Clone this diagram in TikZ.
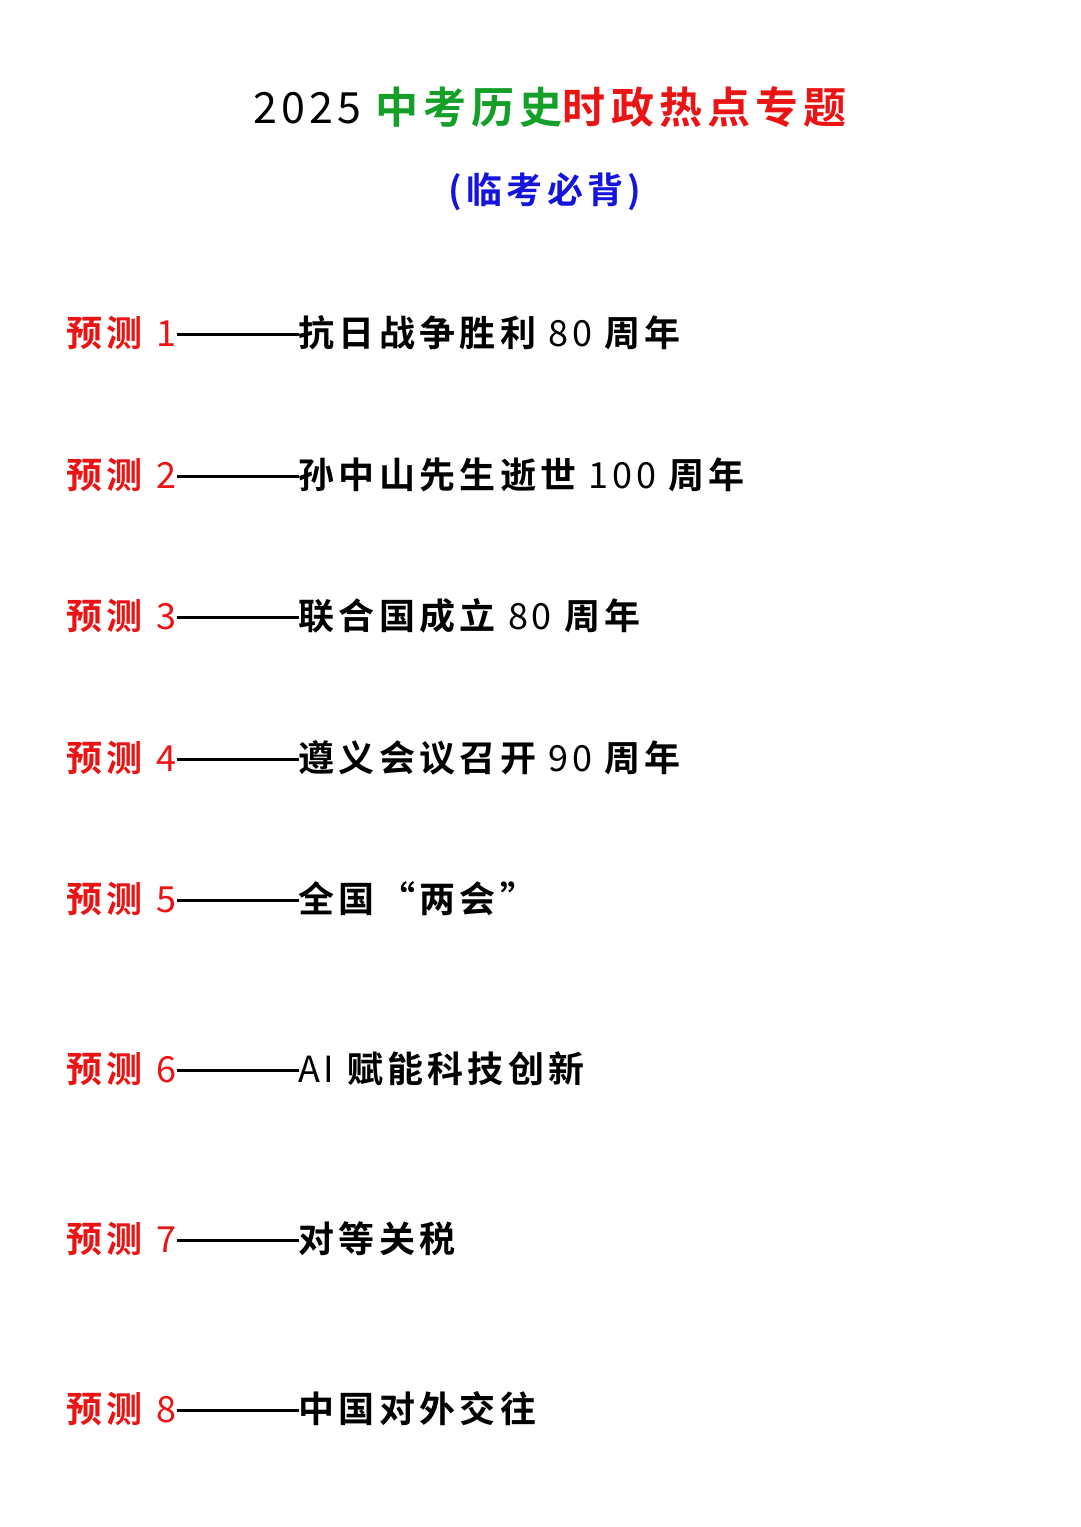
\documentclass[tikz,border=0pt]{standalone}
\usepackage{fontspec}
\newfontfamily\cjkb[LetterSpace=12]{Noto Sans CJK SC Bold}
\newfontfamily\cjkr[LetterSpace=10]{Noto Sans CJK SC}
\definecolor{tgreen}{RGB}{20,160,40}
\definecolor{tred}{RGB}{235,20,20}
\definecolor{tblue}{RGB}{20,20,220}
\tikzset{row/.style={anchor=west,inner sep=0pt,font=\fontsize{36}{40}\selectfont}}
\newcommand{\rowtext}[2]{{\cjkb\color{tred}预测}\hspace{14pt}{\cjkr\color{tred}#1}\raisebox{11pt}{\rule{122pt}{2.5pt}}{\cjkb #2}}
\begin{document}
\begin{tikzpicture}[x=1pt,y=1pt]
\useasboundingbox[fill=white] (0,0) rectangle (1080,-1527);
\node[inner sep=0pt,font=\fontsize{43}{46}\selectfont] (title) at (550,-107) {{\cjkr 2025 }{\cjkb\color{tgreen}中考历史}{\cjkb\color{tred}时政热点专题}};
\node[inner sep=0pt,font=\fontsize{36}{40}\selectfont] (sub) at (545,-192) {{\cjkb\color{tblue}(临考必背)}};
\node[row] (r1) at (66,-333) {\rowtext{1}{抗日战争胜利 {\cjkr 80} 周年}};
\node[row] (r2) at (66,-475) {\rowtext{2}{孙中山先生逝世 {\cjkr 100} 周年}};
\node[row] (r3) at (66,-616) {\rowtext{3}{联合国成立 {\cjkr 80} 周年}};
\node[row] (r4) at (66,-758) {\rowtext{4}{遵义会议召开 {\cjkr 90} 周年}};
\node[row] (r5) at (66,-899) {\rowtext{5}{全国“两会”}};
\node[row] (r6) at (66,-1069) {\rowtext{6}{{\cjkr AI} 赋能科技创新}};
\node[row] (r7) at (66,-1239) {\rowtext{7}{对等关税}};
\node[row] (r8) at (66,-1409) {\rowtext{8}{中国对外交往}};
\end{tikzpicture}
\end{document}
